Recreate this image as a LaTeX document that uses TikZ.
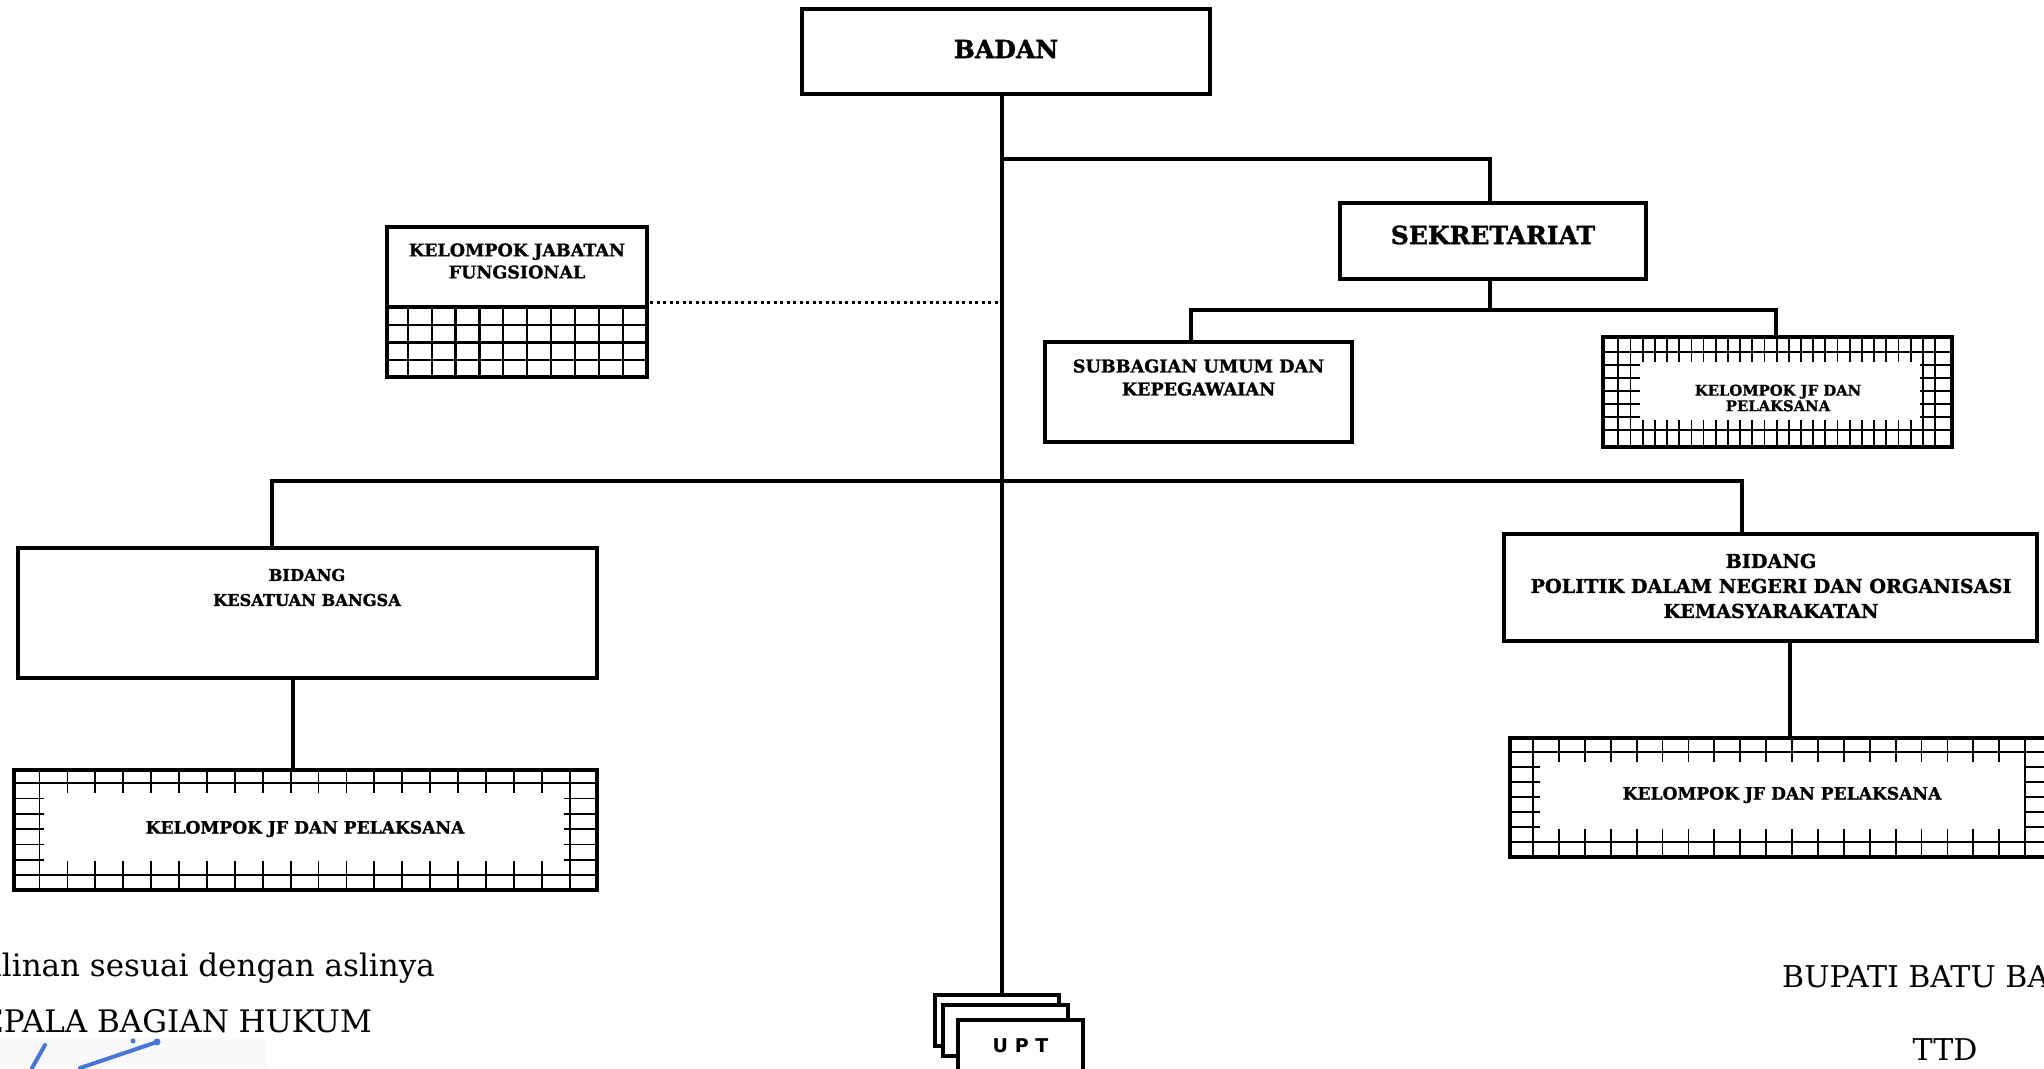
\documentclass[tikz,border=0pt]{standalone}
\usepackage{fontspec}
\setmainfont{DejaVu Serif}[BoldFeatures={FakeBold=1.2}]
\newfontfamily\uptfont{DejaVu Sans}
\definecolor{sigblue}{RGB}{72,118,212}
\definecolor{sigbg}{RGB}{249,249,251}
\begin{document}
\begin{tikzpicture}[x=1pt,y=-1pt,
  bx/.style={draw=black,line width=3.3pt,fill=white,inner sep=0pt,outer sep=0pt,anchor=north west},
  lbl/.style={inner sep=0pt,align=center,font=\bfseries\fontsize{18}{23}\selectfont},
  conn/.style={line width=3.2pt},
  gline/.style={line width=1.8pt},
  jline/.style={line width=2.2pt},
  dotline/.style={line width=3pt,dash pattern=on 3pt off 3.5pt},
  plain/.style={inner sep=0pt,anchor=base west,font=\fontsize{31}{36}\selectfont},
  sig/.style={draw=sigblue,line width=4pt,line cap=round}]
\useasboundingbox (0,0) rectangle (2044,1068);
\clip (0,0) rectangle (2044,1068);
\fill[white] (0,0) rectangle (2044,1068);

% ---------- BADAN ----------
\node[bx,minimum width=408,minimum height=85] (badan) at (802,9) {};
\node[lbl,font=\bfseries\fontsize{25}{28}\selectfont] (badant) at (1006,49) {BADAN};

% ---------- SEKRETARIAT ----------
\node[bx,minimum width=306,minimum height=76] (sek) at (1340,203) {};
\node[lbl,font=\bfseries\fontsize{25}{28}\selectfont] (sekt) at (1493,235) {SEKRETARIAT};

\node[bx,minimum width=307,minimum height=100] (subbag) at (1045,342) {};
\node[lbl,font=\bfseries\fontsize{17.6}{23}\selectfont] (subbagt) at (1198.5,377.5) {SUBBAGIAN UMUM DAN\\KEPEGAWAIAN};

% KJF sekretariat (grid frame)
\node[bx,minimum width=349,minimum height=110] (kjf1) at (1603,337) {};
\begin{scope}
  \clip (kjf1.north west) rectangle (kjf1.south east);
  \foreach \k in {0,...,26} \draw[gline] (1618.3+12.18*\k,337) -- ++(0,110);
  \foreach \k in {0,...,6} \draw[gline] (1603,351.7+13.06*\k) -- ++(349,0);
\end{scope}
\fill[white] (1640,362) rectangle (1920,419.5);
\draw[line width=3.3pt] (kjf1.north west) rectangle (kjf1.south east);
\node[lbl,font=\bfseries\fontsize{14.8}{15.5}\selectfont] (kjf1t) at (1778,398) {KELOMPOK JF DAN\\PELAKSANA};

% ---------- KELOMPOK JABATAN FUNGSIONAL ----------
\node[bx,minimum width=260,minimum height=150] (jab) at (387,227) {};
\foreach \k in {0,...,9} \draw[jline] (407.7+23.9*\k,307) -- ++(0,70);
\foreach \k in {0,1,2} \draw[jline] (387,325+17.5*\k) -- ++(260,0);
\draw[line width=3.3pt] (387,307) -- (647,307);
\draw[line width=3.3pt] (jab.north west) rectangle (jab.south east);
\node[lbl,font=\bfseries\fontsize{17.5}{22}\selectfont] (jabt) at (517,261) {KELOMPOK JABATAN\\FUNGSIONAL};

% ---------- BIDANG KESATUAN BANGSA ----------
\node[bx,minimum width=579,minimum height=130] (kb) at (18,548) {};
\node[lbl,font=\bfseries\fontsize{16.2}{25}\selectfont] (kbt) at (307,587.5) {BIDANG\\KESATUAN BANGSA};

\node[bx,minimum width=583,minimum height=120] (kjf2) at (14,770) {};
\begin{scope}
  \clip (kjf2.north west) rectangle (kjf2.south east);
  \foreach \k in {0,...,19} \draw[gline] (39.5+27.9*\k,770) -- ++(0,120);
  \foreach \k in {0,...,6} \draw[gline] (14,783.3+15.28*\k) -- ++(583,0);
\end{scope}
\fill[white] (43.5,793) rectangle (563.5,861.3);
\draw[line width=3.3pt] (kjf2.north west) rectangle (kjf2.south east);
\node[lbl,font=\bfseries\fontsize{17.1}{23}\selectfont] (kjf2t) at (305,829) {KELOMPOK JF DAN PELAKSANA};

% ---------- BIDANG POLITIK ----------
\node[bx,minimum width=533,minimum height=107] (pol) at (1504,534) {};
\node[lbl,font=\bfseries\fontsize{19.2}{25}\selectfont] (polt) at (1771,586) {BIDANG\\POLITIK DALAM NEGERI DAN ORGANISASI\\KEMASYARAKATAN};

\node[bx,minimum width=543,minimum height=119] (kjf3) at (1510,738) {};
\begin{scope}
  \clip (kjf3.north west) rectangle (kjf3.south east);
  \foreach \k in {0,...,20} \draw[gline] (1533+25.9*\k,738) -- ++(0,119);
  \foreach \k in {0,...,6} \draw[gline] (1510,751.7+15*\k) -- ++(543,0);
\end{scope}
\fill[white] (1540,761.5) rectangle (2024,828.8);
\draw[line width=3.3pt] (kjf3.north west) rectangle (kjf3.south east);
\node[lbl,font=\bfseries\fontsize{17.1}{23}\selectfont] (kjf3t) at (1782,795) {KELOMPOK JF DAN PELAKSANA};

% ---------- UPT ----------
\node[bx,minimum width=124,minimum height=51] (u1) at (935,995) {};
\node[bx,minimum width=125,minimum height=51] (u2) at (943,1005) {};
\node[bx,minimum width=125,minimum height=51,font=\uptfont\bfseries\fontsize{19}{22}\selectfont] (u3) at (958,1020) {U P T};

% ---------- junctions ----------
\coordinate (tr) at (1002,159);
\coordinate (kbj) at (272,481);
\coordinate (polj) at (1742,481);
\coordinate (sj) at (1490,310);
\coordinate (sbj) at (1191,310);
\coordinate (kfj) at (1776,310);
\coordinate (kbx) at (293,678);
\coordinate (polx) at (1790,641);

% ---------- connectors ----------
\draw[conn] (badan.south -| tr) -- (u1.north -| tr);
\draw[conn] (tr) -| (sek.north -| sj);
\draw[conn] (sek.south -| sj) -- (sj);
\draw[conn] (subbag.north -| sbj) |- (kfj) -- (kjf1.north -| kfj);
\draw[conn] (kb.north -| kbj) |- (polj) -- (pol.north -| polj);
\draw[conn] (kb.south -| kbx) -- (kjf2.north -| kbx);
\draw[conn] (pol.south -| polx) -- (kjf3.north -| polx);
\draw[dotline] ([xshift=3pt]jab.east) -- (jab.east -| tr);

% ---------- footer texts ----------
\fill[sigbg] (0,1038) rectangle (267,1068);
\node[plain] (sal) at (-38,976) {Salinan sesuai dengan aslinya};
\node[plain] (kep) at (-42,1032) {KEPALA BAGIAN HUKUM};
\node[plain,font=\fontsize{30}{36}\selectfont] (bup) at (1782,987) {BUPATI BATU BARA};
\node[plain,anchor=base,font=\fontsize{30}{36}\selectfont] (ttd) at (1945,1060) {TTD};

% signature strokes
\draw[sig] (45,1045) -- (32,1068);
\draw[sig] (157,1042) -- (80,1068);
\fill[sigblue] (133,1041) circle (2.5);
\fill[sigblue] (157,1042) circle (3.5);
\end{tikzpicture}
\end{document}
